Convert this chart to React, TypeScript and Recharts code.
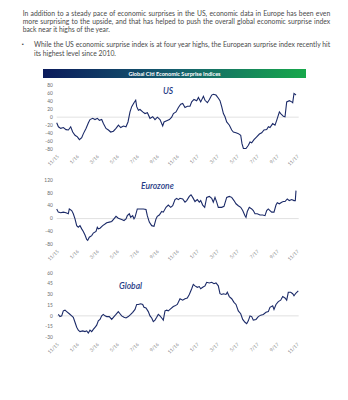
import React from "react";
import { LineChart, Line, XAxis, YAxis, ReferenceLine } from "recharts";

// months since Nov 2015, a tick every two months
const MONTH_TICKS = [0, 2, 4, 6, 8, 10, 12, 14, 16, 18, 20, 22, 24];
const MONTH_LABELS = ["11/15", "1/16", "3/16", "5/16", "7/16", "9/16", "11/16", "1/17", "3/17", "5/17", "7/17", "9/17", "11/17"];

const US_TICKS = [-80, -60, -40, -20, 0, 20, 40, 60, 80];
const EURO_TICKS = [-80, -40, 0, 40, 80, 120];
const GLOBAL_TICKS = [-30, -15, 0, 15, 30, 45, 60];

// [month, index]
const US: [number, number][] = [
  [0, -14], [0.17, -24], [0.4, -28], [0.67, -26], [0.93, -31], [1.17, -32], [1.4, -24], [1.6, -37], [1.83, -45], [2.07, -49],
  [2.27, -56], [2.5, -51], [2.67, -41], [2.93, -28], [3.17, -14], [3.33, -6], [3.6, -3], [3.83, -6], [4.07, -3], [4.27, -8],
  [4.5, -6], [4.67, -16], [4.93, -28], [5.17, -32], [5.4, -37], [5.67, -35], [5.93, -28], [6.17, -20], [6.4, -26], [6.67, -22],
  [6.93, -24], [7.13, -12], [7.33, 13], [7.5, 26], [7.73, 36], [7.9, 42], [8.0, 26], [8.17, 17], [8.33, 19], [8.6, 13],
  [8.83, 9], [9.07, 11], [9.33, -3], [9.6, 1], [9.83, -6], [10.07, 0], [10.33, -6], [10.6, -22], [10.73, -12], [11.0, -9],
  [11.27, -6], [11.5, 0], [11.67, 9], [11.93, 13], [12.17, 24], [12.4, 32], [12.6, 34], [12.83, 24], [13.07, 27], [13.33, 27],
  [13.5, 38], [13.73, 44], [14.0, 41], [14.17, 49], [14.4, 38], [14.67, 52], [14.83, 42], [15.07, 36], [15.27, 44], [15.5, 55],
  [15.67, 57], [15.93, 55], [16.17, 47], [16.33, 41], [16.5, 26], [16.67, 9], [16.83, 1], [17.0, -12], [17.27, -20], [17.5, -32],
  [17.67, -37], [17.93, -39], [18.17, -41], [18.4, -45], [18.53, -66], [18.67, -78], [18.93, -78], [19.17, -70], [19.33, -62], [19.5, -64],
  [19.73, -56], [20.0, -49], [20.27, -42], [20.5, -39], [20.73, -32], [21.0, -31], [21.17, -24], [21.33, -26], [21.6, -16], [21.83, -20],
  [22.0, -8], [22.27, 13], [22.4, 9], [22.67, 2], [22.83, 1], [23.0, 38], [23.27, 41], [23.5, 38], [23.6, 36], [23.73, 59], [23.93, 55],
];

const EUROZONE: [number, number][] = [
  [0, 30], [0.16, 20], [0.4, 18], [0.66, 20], [0.93, 18], [1.16, 15], [1.26, 30], [1.5, 25], [1.66, 15], [1.83, -1],
  [2.0, -22], [2.16, -27], [2.33, -22], [2.5, -32], [2.66, -40], [2.83, -51], [3.0, -65], [3.1, -68], [3.26, -58], [3.5, -53],
  [3.66, -45], [3.93, -40], [4.06, -27], [4.16, -32], [4.33, -30], [4.6, -22], [4.83, -17], [5.0, -13], [5.26, -11], [5.5, -9],
  [5.66, -3], [5.93, 7], [6.16, 1], [6.5, -3], [6.73, -6], [6.93, -1], [7.06, 9], [7.26, 15], [7.4, 4], [7.6, 9],
  [7.73, -1], [7.83, 4], [8.06, 30], [8.33, 30], [8.66, 30], [8.93, 28], [9.06, 9], [9.26, -11], [9.5, -22], [9.73, -24],
  [9.93, -1], [10.06, 7], [10.26, 11], [10.5, 22], [10.66, 20], [10.93, 35], [11.16, 42], [11.4, 35], [11.6, 40], [11.83, 59],
  [12.0, 63], [12.16, 59], [12.33, 63], [12.6, 61], [12.83, 51], [13.0, 56], [13.26, 69], [13.43, 74], [13.6, 66], [13.83, 53],
  [14.06, 59], [14.26, 51], [14.4, 56], [14.6, 42], [14.8, 35], [15.0, 66], [15.26, 69], [15.5, 63], [15.66, 51], [15.83, 66],
  [16.0, 51], [16.16, 35], [16.5, 35], [16.73, 38], [17.0, 66], [17.26, 69], [17.5, 66], [17.73, 56], [17.93, 46], [18.16, 40],
  [18.4, 35], [18.6, 25], [18.83, 9], [18.93, 4], [19.06, 22], [19.26, 35], [19.5, 30], [19.66, 25], [19.83, 15], [20.06, 15],
  [20.33, 11], [20.6, 11], [20.83, 9], [21.0, 25], [21.16, 30], [21.33, 25], [21.5, 20], [21.73, 20], [21.93, 42], [22.06, 49],
  [22.26, 46], [22.5, 51], [22.66, 53], [22.83, 53], [23.06, 61], [23.26, 56], [23.5, 59], [23.73, 56], [23.86, 56], [23.93, 87],
];

const GLOBAL: [number, number][] = [
  [0.16, 2], [0.33, -1], [0.5, 0], [0.66, 7], [0.83, 8], [1.0, 6], [1.26, 3], [1.5, 0], [1.66, -2], [1.83, -9],
  [2.0, -16], [2.16, -20], [2.33, -22], [2.6, -21], [2.83, -22], [3.0, -21], [3.16, -24], [3.33, -20], [3.5, -22], [3.66, -19],
  [3.83, -16], [4.0, -13], [4.16, -7], [4.33, -5], [4.5, 0], [4.66, 2], [4.83, 0], [5.0, -1], [5.26, -1], [5.5, -5],
  [5.73, -1], [5.93, 2], [6.16, 6], [6.33, 3], [6.5, 0], [6.73, -2], [6.93, -3], [7.16, -1], [7.4, 2], [7.6, 5],
  [7.83, 9], [8.0, 16], [8.16, 16], [8.4, 17], [8.6, 16], [8.73, 12], [8.93, 11], [9.16, 6], [9.33, 0], [9.5, -3],
  [9.66, -8], [9.83, -6], [10.0, -2], [10.16, 2], [10.33, 0], [10.5, -3], [10.66, -6], [10.83, 7], [11.0, 8], [11.16, 7],
  [11.33, 9], [11.66, 13], [11.83, 14], [12.06, 16], [12.33, 24], [12.6, 22], [12.83, 24], [13.06, 25], [13.26, 30], [13.5, 38],
  [13.66, 44], [13.83, 42], [14.06, 40], [14.26, 41], [14.4, 38], [14.6, 40], [14.83, 42], [15.0, 47], [15.26, 46], [15.5, 47],
  [15.73, 45], [15.93, 46], [16.16, 42], [16.33, 31], [16.5, 30], [16.66, 31], [16.93, 30], [17.06, 33], [17.26, 27], [17.5, 24],
  [17.73, 19], [17.93, 16], [18.16, 7], [18.4, 3], [18.6, -5], [18.83, -9], [19.0, -11], [19.16, -7], [19.33, 0], [19.5, -1],
  [19.66, -6], [19.93, -5], [20.16, -1], [20.4, 1], [20.66, 2], [20.93, 5], [21.16, 6], [21.33, 12], [21.6, 14], [21.73, 9],
  [21.93, 16], [22.16, 20], [22.4, 22], [22.6, 27], [22.83, 25], [23.0, 22], [23.16, 33], [23.4, 33], [23.6, 31], [23.73, 28],
  [23.93, 32], [24.16, 35],
];

const NAVY = "#1b2a68";
const TEXT = "#4a4a4a";
const FONT = "Lato, 'Liberation Sans', sans-serif";

function Panel({ points, ticks, top }: { points: [number, number][]; ticks: number[]; top: number }) {
  const data = points.map(([m, v]) => ({ m, v }));
  return (
    <div style={{ position: "absolute", left: 0, top }}>
      <LineChart width={348} height={90.3} data={data} margin={{ top: 5, right: 49.3, left: 44.7, bottom: 0 }}>
        <XAxis
          dataKey="m"
          type="number"
          domain={[0, 24.2]}
          ticks={MONTH_TICKS}
          interval={0}
          tickFormatter={(v: number) => MONTH_LABELS[v / 2]}
          angle={-45}
          textAnchor="end"
          height={21}
          tickSize={0}
          tickMargin={5}
          axisLine={false}
          tickLine={false}
          tick={{ fontSize: 4.8, fill: "#8a8a8a", fontFamily: FONT }}
        />
        <YAxis
          type="number"
          domain={[ticks[0], ticks[ticks.length - 1]]}
          ticks={ticks}
          interval={0}
          width={12}
          tickSize={0}
          tickMargin={4}
          axisLine={false}
          tickLine={false}
          tick={{ fontSize: 4.8, fill: "#6a6a6a", fontFamily: FONT }}
        />
        <ReferenceLine y={0} stroke="#d9d9d9" strokeWidth={0.8} />
        <Line type="linear" dataKey="v" stroke={NAVY} strokeWidth={1.1} dot={false} isAnimationActive={false} />
      </LineChart>
    </div>
  );
}

const lineStyle = (top: number, left: number, width: number, justify: boolean): React.CSSProperties => ({
  position: "absolute",
  top,
  left,
  width,
  height: 8,
  lineHeight: "8px",
  fontSize: 6.8,
  whiteSpace: "nowrap",
  textAlign: justify ? "justify" : "left",
  textAlignLast: justify ? "justify" : "left",
  color: TEXT,
  fontFamily: FONT,
});

const titleStyle = (left: number, top: number): React.CSSProperties => ({
  position: "absolute",
  left,
  top,
  fontFamily: FONT,
  fontStyle: "italic",
  fontWeight: 600,
  fontSize: 8.5,
  lineHeight: "10px",
  color: "#1f3a85",
});

export default function App() {
  return (
    <div style={{ position: "absolute", left: 0, top: 0, width: 348, height: 400, background: "#fff", overflow: "hidden" }}>
      <div style={lineStyle(8.7, 22.7, 307.5, true)}>In addition to a steady pace of economic surprises in the US, economic data in Europe has been even</div>
      <div style={lineStyle(16.7, 22.7, 307.5, true)}>more surprising to the upside, and that has helped to push the overall global economic surprise index</div>
      <div style={lineStyle(24.7, 22.7, 200, false)}>back near it highs of the year.</div>
      <div style={{ ...lineStyle(40.3, 21.5, 8, false), fontSize: 5 }}>▪</div>
      <div style={lineStyle(40.3, 34, 296.2, true)}>While the US economic surprise index is at four year highs, the European surprise index recently hit</div>
      <div style={lineStyle(48.7, 34, 200, false)}>its highest level since 2010.</div>

      <div
        style={{
          position: "absolute",
          left: 43,
          top: 69,
          width: 263,
          height: 9,
          background: "linear-gradient(90deg, #0b1b5c 0%, #155e6e 50%, #17a84b 100%)",
          color: "#fff",
          fontFamily: FONT,
          fontWeight: 700,
          fontSize: 5.6,
          lineHeight: "9px",
          textAlign: "center",
        }}
      >
        Global Citi Economic Surprise Indices
      </div>

      <Panel points={US} ticks={US_TICKS} top={80} />
      <Panel points={EUROZONE} ticks={EURO_TICKS} top={175} />
      <Panel points={GLOBAL} ticks={GLOBAL_TICKS} top={267.7} />

      <div style={titleStyle(163, 86)}>US</div>
      <div style={titleStyle(141, 180.5)}>Eurozone</div>
      <div style={titleStyle(119, 280.5)}>Global</div>
    </div>
  );
}
